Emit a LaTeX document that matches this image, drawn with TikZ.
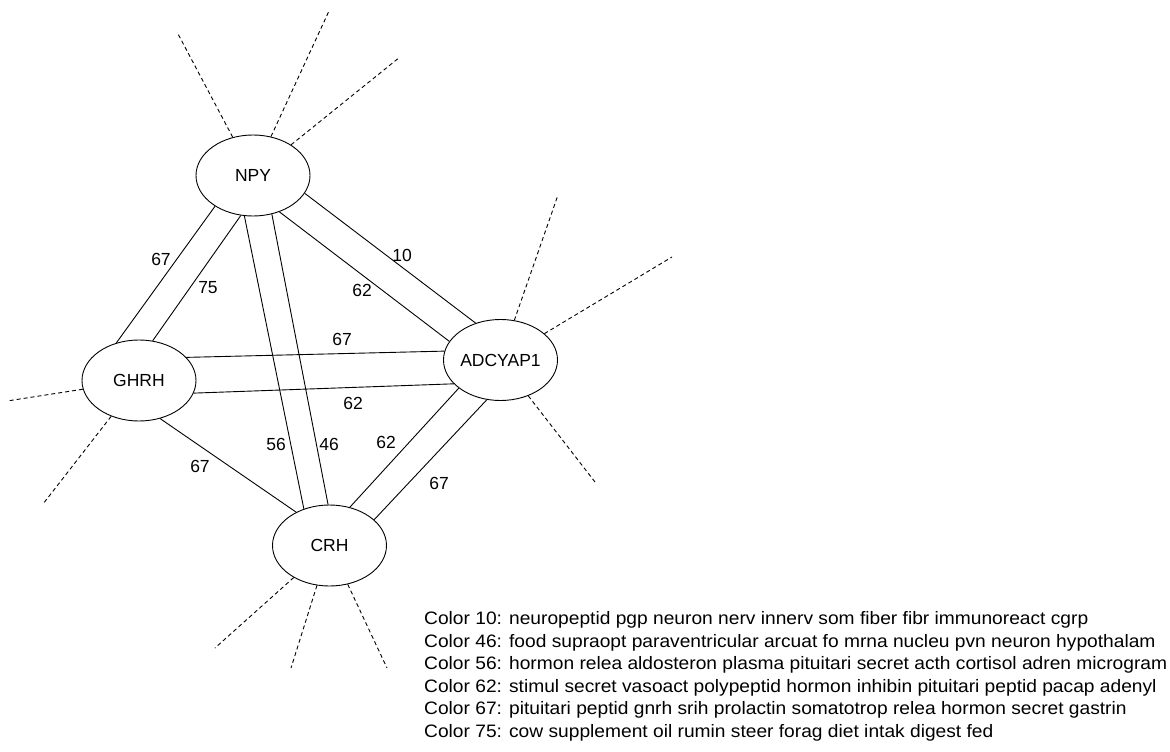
\documentclass[tikz,border=0pt]{standalone}
\usepackage{fontspec}
\setmainfont{Liberation Sans}
\usetikzlibrary{shapes.geometric}
\newcommand{\legtext}[1]{\scalebox{1.066}[1]{#1}}
\begin{document}
\begin{tikzpicture}[x=1pt,y=-1pt,
  every node/.style={font=\fontsize{17.5}{25}\selectfont},
  gene/.style={ellipse,draw,line width=0.9pt,minimum width=114pt,minimum height=81pt,inner sep=0pt},
  edge/.style={line width=0.9pt},
  ext/.style={line width=0.9pt,dash pattern=on 4pt off 3pt},
  lbl/.style={inner sep=0pt},
  leg/.style={anchor=base west,inner sep=0pt,font=\fontsize{18}{22}\selectfont}]
\useasboundingbox (0,0) rectangle (1170,752);
% nodes
\node[gene] (NPY) at (253,175.5) {NPY};
\node[gene] (GHRH) at (139,380.5) {GHRH};
\node[gene] (ADC) at (500.5,360) {ADCYAP1};
\node[gene] (CRH) at (329.5,545.5) {CRH};
% free ends
\coordinate (n1) at (177,32);
\coordinate (n2) at (329,11);
\coordinate (n3) at (400,57);
\coordinate (a1) at (558,195);
\coordinate (a2) at (672,257);
\coordinate (a3) at (595,482);
\coordinate (g1) at (7,401);
\coordinate (g2) at (43,504);
\coordinate (c1) at (215,648);
\coordinate (c2) at (291,668);
\coordinate (c3) at (387,668);
% edges
\draw[edge] (NPY.219.7) -- (GHRH.121.9);
\draw[edge] (NPY.253.1) -- (GHRH.71.8);
\draw[edge] (NPY.258.8) -- (CRH.125.5);
\draw[edge] (NPY.296.3) -- (CRH.92);
\draw[edge] (NPY.306.5) -- (ADC.160.7);
\draw[edge] (NPY.341.4) -- (ADC.124.6);
\draw[edge] (GHRH.26.1) -- (ADC.171);
\draw[edge] (GHRH.347.6) -- (ADC.207.8);
\draw[edge] (GHRH.299.2) -- (CRH.135.8);
\draw[edge] (ADC.214.3) -- (CRH.62.6);
\draw[edge] (ADC.251.4) -- (CRH.30.8);
% dashed
\draw[ext] (NPY) -- (n1);
\draw[ext] (NPY) -- (n2);
\draw[ext] (NPY) -- (n3);
\draw[ext] (ADC) -- (a1);
\draw[ext] (ADC) -- (a2);
\draw[ext] (ADC) -- (a3);
\draw[ext] (GHRH) -- (g1);
\draw[ext] (GHRH) -- (g2);
\draw[ext] (CRH) -- (c1);
\draw[ext] (CRH) -- (c2);
\draw[ext] (CRH) -- (c3);
% edge labels
\node[lbl] (l1) at (161,259) {67};
\node[lbl] (l2) at (208,288) {75};
\node[lbl] (l3) at (402,255) {10};
\node[lbl] (l4) at (362,290) {62};
\node[lbl] (l5) at (342,339) {67};
\node[lbl] (l6) at (353,403) {62};
\node[lbl] (l7) at (276,444) {56};
\node[lbl] (l8) at (329,444) {46};
\node[lbl] (l9) at (386,442) {62};
\node[lbl] (l10) at (200,466) {67};
\node[lbl] (l11) at (439,483) {67};
% legend
\node[leg] (k1) at (424,624.5) {\legtext{Color 10: neuropeptid pgp neuron nerv innerv som fiber fibr immunoreact cgrp}};
\node[leg] (k2) at (424,647) {\legtext{Color 46: food supraopt paraventricular arcuat fo mrna nucleu pvn neuron hypothalam}};
\node[leg] (k3) at (424,669.5) {\legtext{Color 56: hormon relea aldosteron plasma pituitari secret acth cortisol adren microgram}};
\node[leg] (k4) at (424,692) {\legtext{Color 62: stimul secret vasoact polypeptid hormon inhibin pituitari peptid pacap adenyl}};
\node[leg] (k5) at (424,714.5) {\legtext{Color 67: pituitari peptid gnrh srih prolactin somatotrop relea hormon secret gastrin}};
\node[leg] (k6) at (424,737) {\legtext{Color 75: cow supplement oil rumin steer forag diet intak digest fed}};
\end{tikzpicture}
\end{document}
